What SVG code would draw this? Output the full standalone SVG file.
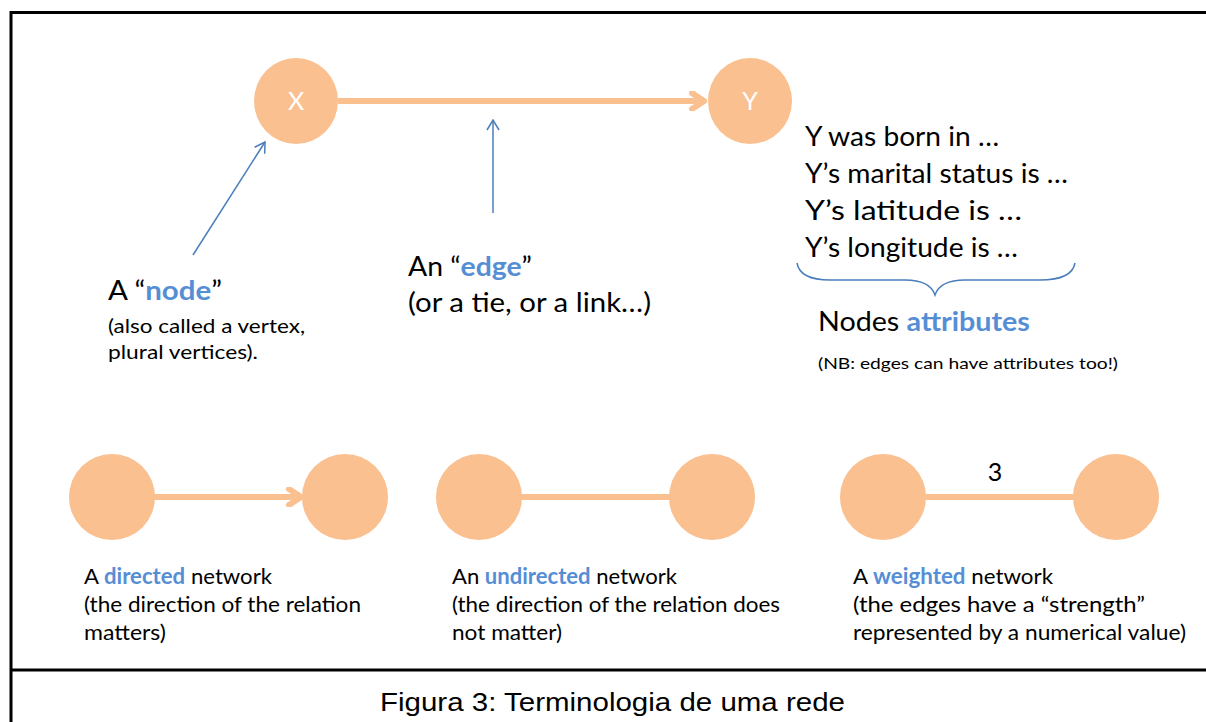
<svg xmlns="http://www.w3.org/2000/svg" width="1206" height="722" viewBox="0 0 1206 722">
<style>
.node{fill:#FAC090}
.edge{stroke:#FAC090;stroke-width:6;fill:none}
.ptr{stroke:#4A7EBB;stroke-width:1.5;fill:none}
.t{font-family:Lato,"Open Sans","Liberation Sans",sans-serif;fill:#000}
.b{fill:#558ED5;font-weight:bold}
.lbl{font-family:Lato,"Open Sans","Liberation Sans",sans-serif;fill:#fff;font-size:25px;text-anchor:middle}
</style>
<defs>
<marker id="oa" viewBox="0 0 20 20" refX="17" refY="10" markerWidth="20" markerHeight="20" markerUnits="userSpaceOnUse" orient="auto">
<path d="M5,2 L17,10 L5,18" fill="none" stroke="#FAC090" stroke-width="6" stroke-linecap="round" stroke-linejoin="round"/>
</marker>
<marker id="ba" viewBox="0 0 14 14" refX="13" refY="7" markerWidth="14" markerHeight="14" markerUnits="userSpaceOnUse" orient="auto">
<path d="M3,1 L13,7 L3,13" fill="none" stroke="#4A7EBB" stroke-width="1.5"/>
</marker>
</defs>
<rect width="1206" height="722" fill="#fff"/>
<g id="frame" stroke="#000" stroke-width="3" fill="none">
<path d="M11,722 L11,12.5 L1206,12.5"/>
<path d="M11,670 L1206,670"/>
</g>
<g id="connectors">
<line class="edge" x1="338" y1="101" x2="704" y2="101" marker-end="url(#oa)"/>
<line class="edge" x1="153" y1="497" x2="301" y2="497" marker-end="url(#oa)"/>
<line class="edge" x1="520" y1="497" x2="672" y2="497"/>
<line class="edge" x1="924" y1="497" x2="1076" y2="497"/>
<line class="ptr" x1="193" y1="255" x2="265" y2="142" marker-end="url(#ba)"/>
<line class="ptr" x1="493" y1="213" x2="493" y2="120" marker-end="url(#ba)"/>
<path class="ptr" d="M797,263 Q800,280 830,280 L905,280 Q930,280 935,295 Q940,280 965,280 L1040,280 Q1072,280 1075,263"/>
</g>
<g id="node-x"><ellipse class="node" cx="296" cy="101" rx="42" ry="43"/><text class="lbl" x="296" y="110">X</text></g>
<g id="node-y"><ellipse class="node" cx="750" cy="101" rx="42" ry="43"/><text class="lbl" x="750" y="110">Y</text></g>
<g id="node-d1"><circle class="node" cx="112" cy="497" r="43"/></g>
<g id="node-d2"><circle class="node" cx="345" cy="497" r="43"/></g>
<g id="node-u1"><circle class="node" cx="479" cy="497" r="43"/></g>
<g id="node-u2"><circle class="node" cx="712" cy="497" r="43"/></g>
<g id="node-w1"><circle class="node" cx="883" cy="497" r="43"/></g>
<g id="node-w2"><circle class="node" cx="1116" cy="497" r="43"/></g>
<g id="labels">
<text class="t" x="995" y="481" font-size="25" text-anchor="middle">3</text>
<text class="t" x="805" y="146" font-size="26" textLength="194" lengthAdjust="spacingAndGlyphs">Y was born in …</text>
<text class="t" x="805" y="183" font-size="26" textLength="263" lengthAdjust="spacingAndGlyphs">Y’s marital status is …</text>
<text class="t" x="805" y="220" font-size="26" textLength="217" lengthAdjust="spacingAndGlyphs">Y’s latitude is …</text>
<text class="t" x="805" y="257" font-size="26" textLength="213" lengthAdjust="spacingAndGlyphs">Y’s longitude is …</text>
<text class="t" x="818" y="331" font-size="26" textLength="212" lengthAdjust="spacingAndGlyphs">Nodes <tspan class="b">attributes</tspan></text>
<text class="t" x="818" y="369" font-size="16" textLength="300" lengthAdjust="spacingAndGlyphs">(NB: edges can have attributes too!)</text>
<text class="t" x="108" y="300" font-size="26" textLength="114" lengthAdjust="spacingAndGlyphs">A “<tspan class="b">node</tspan>”</text>
<text class="t" x="108" y="333" font-size="20" textLength="197" lengthAdjust="spacingAndGlyphs">(also called a vertex,</text>
<text class="t" x="108" y="359" font-size="20" textLength="150" lengthAdjust="spacingAndGlyphs">plural vertices).</text>
<text class="t" x="408" y="276" font-size="26" textLength="124" lengthAdjust="spacingAndGlyphs">An “<tspan class="b">edge</tspan>”</text>
<text class="t" x="408" y="312" font-size="26" textLength="243" lengthAdjust="spacingAndGlyphs">(or a tie, or a link…)</text>
<text class="t" x="84" y="584" font-size="22" textLength="188" lengthAdjust="spacingAndGlyphs">A <tspan class="b">directed</tspan> network</text>
<text class="t" x="84" y="612" font-size="22" textLength="277" lengthAdjust="spacingAndGlyphs">(the direction of the relation</text>
<text class="t" x="84" y="640" font-size="22" textLength="82" lengthAdjust="spacingAndGlyphs">matters)</text>
<text class="t" x="452" y="584" font-size="22" textLength="225" lengthAdjust="spacingAndGlyphs">An <tspan class="b">undirected</tspan> network</text>
<text class="t" x="452" y="612" font-size="22" textLength="328" lengthAdjust="spacingAndGlyphs">(the direction of the relation does</text>
<text class="t" x="452" y="640" font-size="22" textLength="110" lengthAdjust="spacingAndGlyphs">not matter)</text>
<text class="t" x="853" y="584" font-size="22" textLength="200" lengthAdjust="spacingAndGlyphs">A <tspan class="b">weighted</tspan> network</text>
<text class="t" x="853" y="612" font-size="22" textLength="292" lengthAdjust="spacingAndGlyphs">(the edges have a “strength”</text>
<text class="t" x="853" y="640" font-size="22" textLength="333" lengthAdjust="spacingAndGlyphs">represented by a numerical value)</text>
<text x="380" y="711" font-family="'Liberation Sans',Arial,sans-serif" font-size="26" textLength="465" lengthAdjust="spacingAndGlyphs">Figura 3: Terminologia de uma rede</text>
</g>
</svg>
